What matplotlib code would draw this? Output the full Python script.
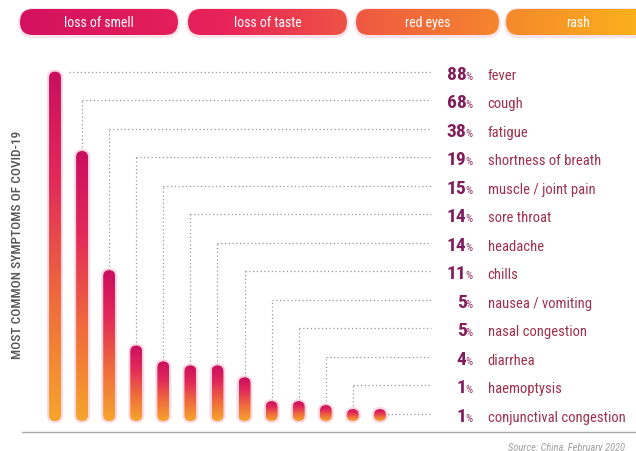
"""
plot.py - most common symptoms of COVID-19 (lollipop style infographic)
"""

import numpy as np
import matplotlib
matplotlib.use("Agg")
import matplotlib.pyplot as plt
from matplotlib.colors import LinearSegmentedColormap
from matplotlib.patches import FancyBboxPatch
from matplotlib import font_manager as fm

# ── Data ───────────────────────────────────────────────────────────────────
symptoms = ["fever", "cough", "fatigue", "shortness of breath",
            "muscle / joint pain", "sore throat", "headache", "chills",
            "nausea / vomiting", "nasal congestion", "diarrhea",
            "haemoptysis", "conjunctival congestion"]
percent = [88, 68, 38, 19, 15, 14, 14, 11, 5, 5, 4, 1, 1]
pill_labels = ["loss of smell", "loss of taste", "red eyes", "rash"]
y_title = "MOST COMMON SYMPTOMS OF COVID-19"
source = "Source: China, February 2020"

# ── Config ─────────────────────────────────────────────────────────────────
W_PX, H_PX = 636, 452
PX_X = 27.08          # pixels per bar slot
PX_Y = 3.97           # pixels per percent
X0_PX, Y0_PX = 55, 422  # pixel position of bar 0 / baseline
BAR_W = 0.44
X_LINE_END = 13.9
X_NUM = 15.2
X_NAME = 15.98

names = {f.name for f in fm.fontManager.ttflist}
NARROW = next((n for n in ["Liberation Sans Narrow", "Roboto Condensed",
                           "Open Sans Condensed"] if n in names), "DejaVu Sans")
STRETCH = "normal" if NARROW != "DejaVu Sans" else "condensed"
plt.rcParams["font.family"] = [NARROW, "DejaVu Sans"]
plt.rcParams["font.stretch"] = STRETCH

bar_cmap = LinearSegmentedColormap.from_list(
    "bar", [(0, "#F6A52B"), (0.35, "#EF6A3C"), (0.7, "#E2285A"), (1, "#CB0E5E")])
pill_cmap = LinearSegmentedColormap.from_list(
    "pill", [(0, "#D20F60"), (0.35, "#E8235A"), (0.6, "#F0603E"),
             (0.8, "#F5892C"), (1, "#FBB01C")])

fig = plt.figure(figsize=(W_PX / 100, H_PX / 100), dpi=100)

# ── Bars ───────────────────────────────────────────────────────────────────
ax = fig.add_axes([0, 0, 1, 1])
xlim = (-X0_PX / PX_X, (W_PX - X0_PX) / PX_X)
ylim = ((Y0_PX - H_PX) / PX_Y, Y0_PX / PX_Y)
aspect = PX_X / PX_Y
min_h = BAR_W * aspect

n = len(percent)
rows = np.linspace(percent[0], percent[0] - (n - 1) * 28.5 / PX_Y, n)
grad = np.linspace(0, 1, 256).reshape(-1, 1)

for i, (v, row) in enumerate(zip(percent, rows)):
    h = max(v, min_h)
    glow = FancyBboxPatch((i - BAR_W / 2, 0), BAR_W, h,
                          boxstyle=f"round,pad=0,rounding_size={BAR_W / 2}",
                          mutation_aspect=aspect, facecolor="none",
                          edgecolor="#F7B3C8", lw=3, alpha=0.5, zorder=2)
    ax.add_patch(glow)
    clip = FancyBboxPatch((i - BAR_W / 2, 0), BAR_W, h,
                          boxstyle=f"round,pad=0,rounding_size={BAR_W / 2}",
                          mutation_aspect=aspect, facecolor="none",
                          edgecolor="none", zorder=3)
    ax.add_patch(clip)
    im = ax.imshow(grad, cmap=bar_cmap, extent=(i - BAR_W / 2, i + BAR_W / 2, 0, h),
                   origin="lower", aspect="auto", zorder=3)
    im.set_clip_path(clip)

    # dotted connectors
    dot = dict(color="#9A9A9A", lw=0.9, ls=(0, (1, 2)), zorder=1)
    if row > v:
        ax.plot([i, i], [v, row], **dot)
    ax.plot([i + (0.5 if i == 0 else 0), X_LINE_END], [row, row], **dot)

    # labels
    ax.annotate(f"{v}", xy=(X_NUM, row), xytext=(0, -5), textcoords="offset points",
                ha="right", va="baseline", fontsize=14, fontweight="bold",
                color="#801E5C")
    ax.annotate("%", xy=(X_NUM, row), xytext=(-1, -5), textcoords="offset points",
                ha="left", va="baseline", fontsize=8, color="#963068")
    ax.annotate(symptoms[i], xy=(X_NAME, row), xytext=(0, -5),
                textcoords="offset points", ha="left", va="baseline",
                fontsize=10.5, color="#A0304E")

# baseline
ax.plot([(22 - X0_PX) / PX_X, xlim[1]], [-2.8, -2.8], color="#AAAAAA", lw=1, zorder=1)
ax.set_xlim(*xlim)
ax.set_ylim(*ylim)
ax.axis("off")

# ── Pills on top ───────────────────────────────────────────────────────────
ax2 = fig.add_axes([0, 0, 1, 1], facecolor="none")
ax2.set_xlim(0, W_PX)
ax2.set_ylim(H_PX, 0)
ax2.axis("off")
pill_x = [(20, 178), (188, 347), (356, 499), (506, 650)]
pill_top, pill_h = 10, 26
pgrad = np.linspace(0, 1, 512).reshape(1, -1)
for label, (x0, x1) in zip(pill_labels, pill_x):
    shadow = FancyBboxPatch((x0, pill_top + 1), x1 - x0, pill_h,
                            boxstyle=f"round,pad=0,rounding_size={pill_h / 2}",
                            facecolor="none", edgecolor="#F6B0C6", lw=3,
                            alpha=0.35, zorder=1)
    ax2.add_patch(shadow)
    p = FancyBboxPatch((x0, pill_top), x1 - x0, pill_h,
                       boxstyle=f"round,pad=0,rounding_size={pill_h / 2}",
                       facecolor="none", edgecolor="none", zorder=2)
    ax2.add_patch(p)
    im = ax2.imshow(pgrad, cmap=pill_cmap, extent=(0, W_PX, pill_top + pill_h, pill_top),
                    aspect="auto", zorder=2)
    im.set_clip_path(p)
    ax2.text((x0 + x1) / 2, pill_top + pill_h / 2, label, ha="center", va="center",
             fontsize=10, color="white", zorder=3)
ax2.set_xlim(0, W_PX)
ax2.set_ylim(H_PX, 0)

# ── Side title and source ──────────────────────────────────────────────────
fig.text(18 / W_PX, 1 - 245 / H_PX, y_title, rotation=90, ha="center", va="center",
         fontsize=9.6, fontweight="medium", color="#555555")
fig.text(508 / W_PX, 1 - 448 / H_PX, source, ha="left", va="center",
         fontsize=7.6, style="italic", color="#A0A0A0")

plt.savefig("out.png", dpi=100)
plt.close()
print("Saved: out.png")
